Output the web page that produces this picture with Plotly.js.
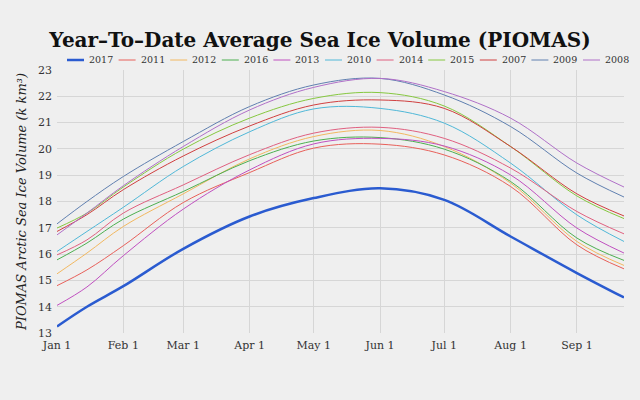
<!DOCTYPE html>
<html>
<head>
<meta charset="utf-8">
<script src="https://cdn.plot.ly/plotly-3.0.1.min.js"></script>
<style>html,body{margin:0;padding:0;background:#efefef;} #chart{width:640px;height:400px;}</style>
</head>
<body>
<div id="chart"></div>
<script>
// Sample dates (x values)
var dates = ['2017-01-01','2017-01-15','2017-02-01','2017-03-01','2017-04-01','2017-05-01','2017-06-01','2017-07-01','2017-08-01','2017-09-01','2017-09-23'];

// Series (k km³)
var y2017 = [13.25, 14.0, 14.78, 16.2, 17.43, 18.13, 18.5, 18.06, 16.67, 15.28, 14.35];
var y2011 = [14.8, 15.4, 16.32, 17.96, 19.1, 20.03, 20.18, 19.77, 18.57, 16.35, 15.44];
var y2012 = [15.25, 16.04, 17.05, 18.29, 19.62, 20.47, 20.7, 20.09, 18.7, 16.48, 15.57];
var y2016 = [15.78, 16.42, 17.33, 18.38, 19.55, 20.3, 20.43, 19.99, 18.76, 16.61, 15.76];
var y2013 = [14.05, 14.75, 15.94, 17.71, 19.2, 20.19, 20.4, 20.11, 19.01, 16.99, 16.04];
var y2010 = [16.1, 16.86, 17.78, 19.33, 20.65, 21.52, 21.54, 20.98, 19.46, 17.49, 16.48];
var y2014 = [15.97, 16.54, 17.56, 18.63, 19.78, 20.6, 20.82, 20.4, 19.27, 17.62, 16.77];
var y2015 = [16.99, 17.56, 18.55, 19.99, 21.17, 21.92, 22.14, 21.63, 20.09, 18.21, 17.35];
var y2007 = [16.86, 17.5, 18.45, 19.73, 20.87, 21.67, 21.86, 21.54, 20.09, 18.29, 17.45];
var y2009 = [17.15, 18.0, 18.95, 20.28, 21.61, 22.43, 22.68, 22.05, 20.85, 19.08, 18.17];
var y2008 = [16.73, 17.56, 18.6, 20.09, 21.48, 22.34, 22.68, 22.18, 21.17, 19.46, 18.55];

var names = ['2017','2011','2012','2016','2013','2010','2014','2015','2007','2009','2008'];
var values = [y2017,y2011,y2012,y2016,y2013,y2010,y2014,y2015,y2007,y2009,y2008];
var colors = ['#2a5bd0','#e8605a','#f2b860','#4caf50','#c050c0','#50b8d8','#e06080','#86c840','#d04040','#6080b0','#b070c8'];

var serif = '"DejaVu Serif", "Liberation Serif", serif';

var traces = names.map(function(n, i){
  return {
    x: dates, y: values[i], name: n, type: 'scatter', mode: 'lines',
    line: {color: colors[i], width: i === 0 ? 2.5 : 1, shape: 'spline', smoothing: 1},
    showlegend: false
  };
});

// Single-row legend built from names/colors (Plotly's own legend cannot fit one row here)
var W = 640, H = 400, ML = 57, MR = 16, MT = 70, MB = 67;
var pw = W - ML - MR, ph = H - MT - MB;
var legY = (H - MB - 60) / ph;
var shapes = [], annotations = [];
names.forEach(function(n, i){
  var sx = 67 + i * 51.6;
  shapes.push({type: 'line', xref: 'paper', yref: 'paper',
    x0: (sx - ML) / pw, x1: (sx + 17 - ML) / pw, y0: legY, y1: legY,
    line: {color: colors[i], width: i === 0 ? 2.5 : 1}});
  annotations.push({xref: 'paper', yref: 'paper', x: (sx + 20 - ML) / pw, y: legY,
    xanchor: 'left', yanchor: 'middle', showarrow: false, text: n,
    font: {family: serif, size: 9.5, color: '#333'}});
});

var layout = {
  width: W, height: H,
  paper_bgcolor: '#efefef', plot_bgcolor: '#efefef',
  margin: {l: ML, r: MR, t: MT, b: MB},
  title: {text: '<b>Year–To–Date Average Sea Ice Volume (PIOMAS)</b>', x: 0.5, xanchor: 'center', y: 0.9, yanchor: 'middle',
          font: {family: serif, size: 20, color: '#111'}},
  showlegend: false,
  shapes: shapes,
  annotations: annotations,
  xaxis: {type: 'date', range: ['2017-01-01','2017-09-23'], tickformat: '%b %-d',
          tickvals: ['2017-01-01','2017-02-01','2017-03-01','2017-04-01','2017-05-01','2017-06-01','2017-07-01','2017-08-01','2017-09-01'],
          showgrid: true, gridcolor: '#d6d6d6', zeroline: false, showline: false, ticks: '', ticklabelstandoff: 4,
          tickfont: {family: serif, size: 11, color: '#333'}},
  yaxis: {range: [13, 23], dtick: 1, showgrid: true, gridcolor: '#d6d6d6', zeroline: false, ticks: '',
          tickfont: {family: serif, size: 11, color: '#333'}, ticklabelstandoff: 4,
          title: {text: '<i>PIOMAS Arctic Sea Ice Volume (k km³)</i>', standoff: 8,
                  font: {family: serif, size: 13, color: '#222'}}}
};

Plotly.newPlot('chart', traces, layout, {displayModeBar: false, staticPlot: true});
</script>
</body>
</html>
